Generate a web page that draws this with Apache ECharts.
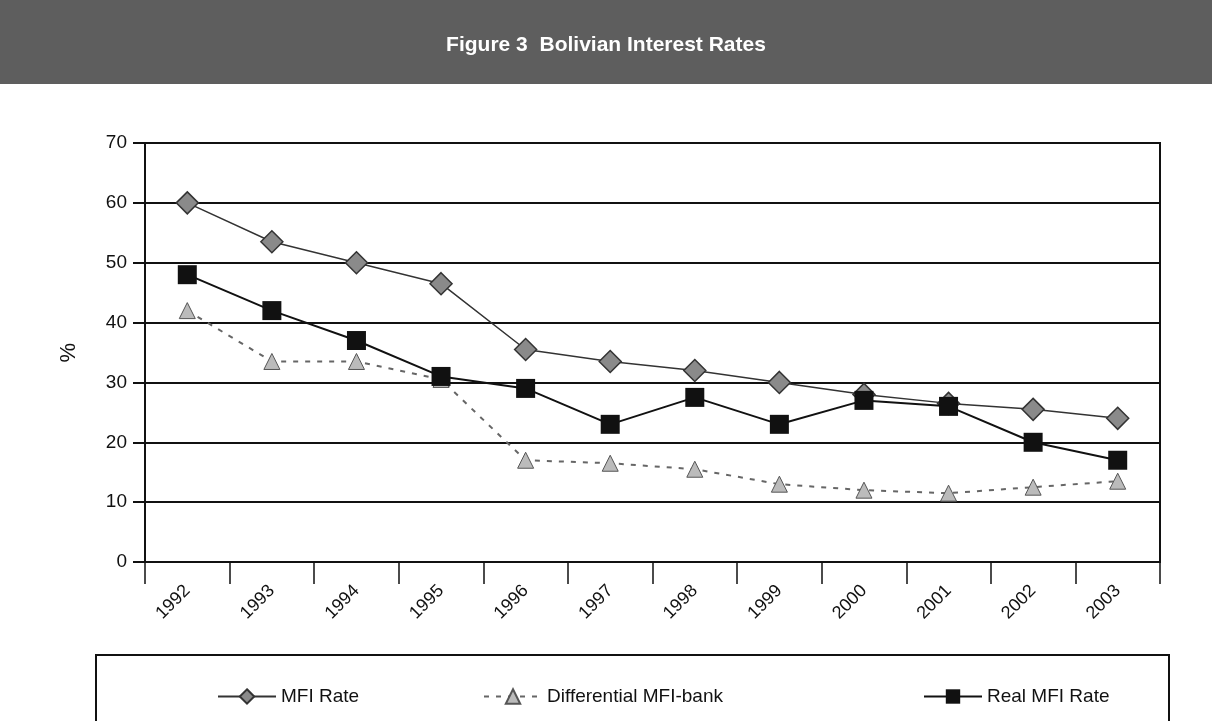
<!DOCTYPE html>
<html>
<head>
<meta charset="utf-8">
<script src="https://cdn.jsdelivr.net/npm/echarts@6/dist/echarts.min.js"></script>
<style>html,body{margin:0;padding:0;background:#fff}#c{width:1212px;height:721px}</style>
</head>
<body>
<div id="c"></div>
<script>
const years = ['1992','1993','1994','1995','1996','1997','1998','1999','2000','2001','2002','2003'];
const mfiRate = [60, 53.5, 50, 46.5, 35.5, 33.5, 32, 30, 28, 26.5, 25.5, 24];
const differential = [42, 33.5, 33.5, 30.5, 17, 16.5, 15.5, 13, 12, 11.5, 12.5, 13.5];
const realMfiRate = [48, 42, 37, 31, 29, 23, 27.5, 23, 27, 26, 20, 17];
const yTicks = [0, 10, 20, 30, 40, 50, 60, 70];
const titleText = 'Figure 3  Bolivian Interest Rates';

const chart = echarts.init(document.getElementById('c'));
const font = 'Liberation Sans, Arial, sans-serif';
const option = {
  backgroundColor: '#fff',
  animation: false,
  graphic: [
    { type: 'rect', shape: { x: 0, y: 0, width: 1212, height: 84 }, style: { fill: '#5e5e5e' }, z: 0 },
    { type: 'text', left: 'center', top: 35, style: { text: titleText, fill: '#fff', font: 'bold 21px "Liberation Sans Narrow", "Liberation Sans", Arial' }, z: 1 },
    { type: 'rect', shape: { x: 96, y: 655, width: 1073, height: 80 }, style: { fill: 'none', stroke: '#111', lineWidth: 2 }, z: 0 },
    { type: 'text', left: 58, top: 343, rotation: Math.PI / 2, style: { text: '%', fill: '#111', font: '22px ' + font }, z: 1 }
  ],
  grid: { left: 145, right: 52, top: 143, bottom: 159, show: true, borderColor: '#111', borderWidth: 2, backgroundColor: 'transparent' },
  legend: [
    { data: ['MFI Rate'], left: 212, top: 682, itemWidth: 58, itemHeight: 18, textStyle: { fontSize: 19, fontFamily: font, color: '#111' } },
    { data: ['Differential MFI-bank'], left: 478, top: 682, itemWidth: 58, itemHeight: 18, textStyle: { fontSize: 19, fontFamily: font, color: '#111' } },
    { data: ['Real MFI Rate'], left: 918, top: 682, itemWidth: 58, itemHeight: 18, textStyle: { fontSize: 19, fontFamily: font, color: '#111' } }
  ],
  xAxis: {
    type: 'category', data: years, boundaryGap: true,
    axisLine: { lineStyle: { color: '#111', width: 2 } },
    axisTick: { show: true, interval: 0, length: 22, lineStyle: { color: '#111', width: 1.5 } },
    axisLabel: { rotate: 45, interval: 0, fontSize: 18, fontFamily: font, color: '#111', margin: 26 }
  },
  yAxis: {
    type: 'value', min: 0, max: 70, interval: 10,
    axisLine: { show: true, lineStyle: { color: '#111', width: 2 } },
    axisTick: { show: true, length: 12, lineStyle: { color: '#111', width: 2 } },
    axisLabel: { fontSize: 19, fontFamily: font, color: '#111', margin: 18 },
    splitLine: { show: true, lineStyle: { color: '#111', width: 2 } }
  },
  series: [
    { name: 'MFI Rate', type: 'line', data: mfiRate, symbol: 'diamond', symbolSize: 22,
      lineStyle: { color: '#333', width: 1.5 }, itemStyle: { color: '#8a8a8a', borderColor: '#333', borderWidth: 1.5 }, z: 3 },
    { name: 'Differential MFI-bank', type: 'line', data: differential, symbol: 'triangle', symbolSize: 16,
      lineStyle: { color: '#666', width: 2, type: [5, 7] }, itemStyle: { color: '#bbb', borderColor: '#555', borderWidth: 1 }, z: 2 },
    { name: 'Real MFI Rate', type: 'line', data: realMfiRate, symbol: 'rect', symbolSize: 19,
      lineStyle: { color: '#111', width: 2 }, itemStyle: { color: '#111' }, z: 4 }
  ]
};
chart.setOption(option);
</script>
</body>
</html>
